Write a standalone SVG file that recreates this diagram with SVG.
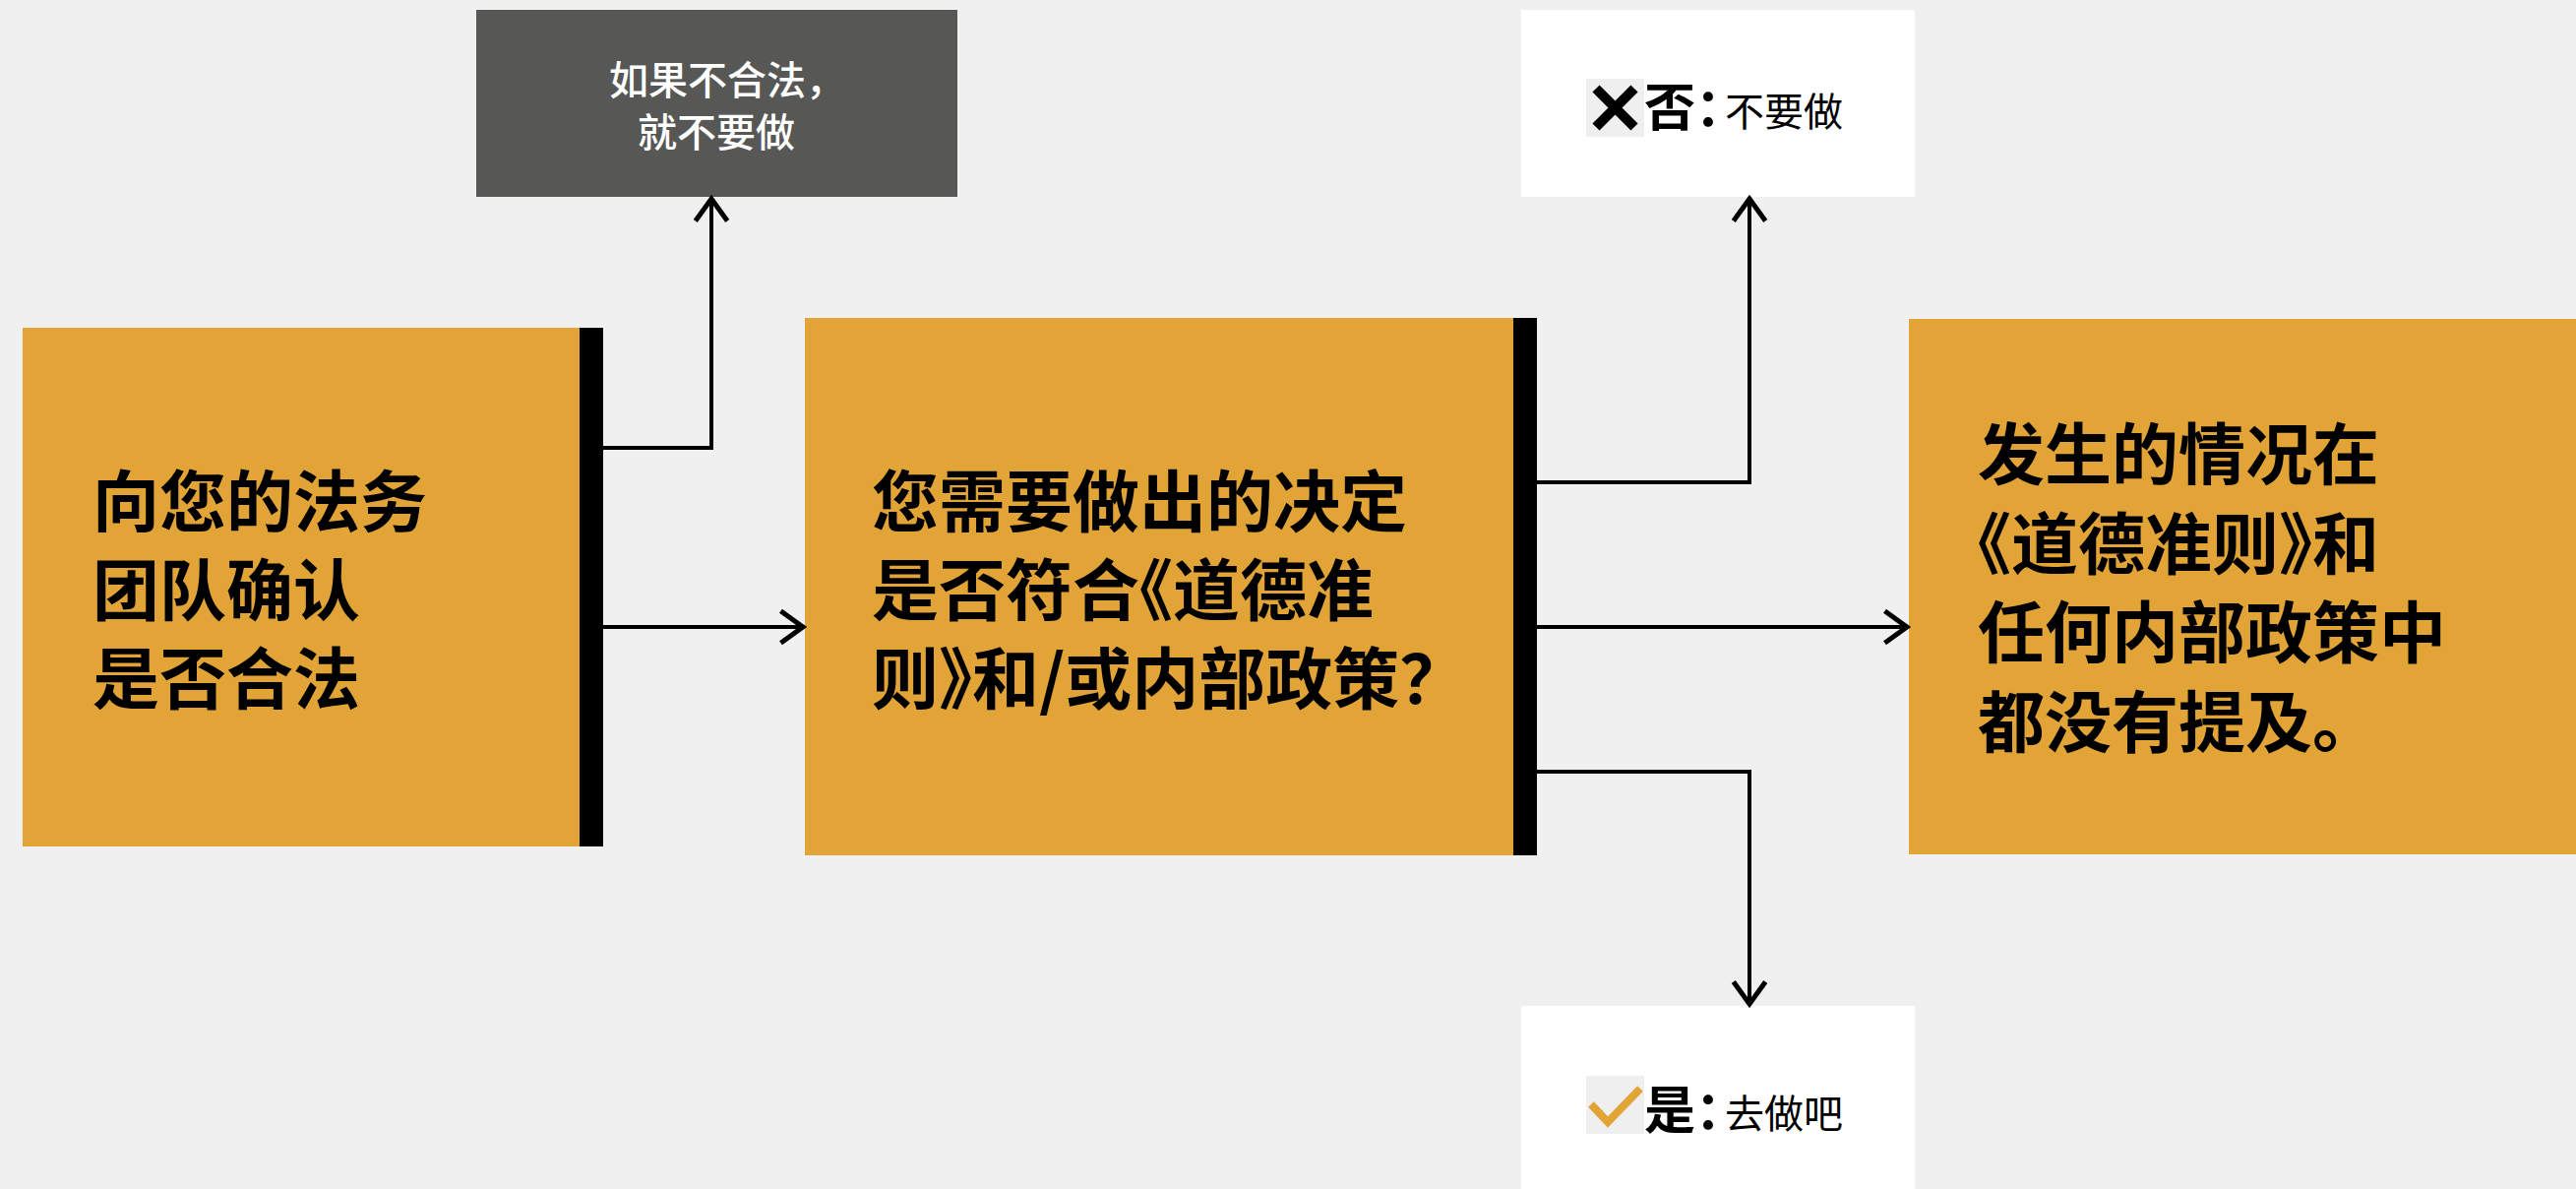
<svg xmlns="http://www.w3.org/2000/svg" width="2618" height="1208" viewBox="0 0 2618 1208">
<style>
.box{fill:#E2A436}
.bar{fill:#000}
.big{font-family:"Noto Sans CJK SC","Noto Sans",sans-serif;font-weight:700;font-size:68px;fill:#000}
.note{font-family:"Noto Sans CJK SC","Noto Sans",sans-serif;font-weight:500;font-size:40px;fill:#fff}
.lbl{font-family:"Noto Sans CJK SC","Noto Sans",sans-serif;font-weight:700;font-size:52px;fill:#000}
.sub{font-family:"Noto Sans CJK SC","Noto Sans",sans-serif;font-weight:400;font-size:40px;fill:#000}
.con{fill:none;stroke:#000;stroke-width:4}
</style>
<defs>
<marker id="arr" markerUnits="userSpaceOnUse" markerWidth="40" markerHeight="40" viewBox="-22 -16 26 32" refX="0" refY="0" orient="auto">
<path d="M-18,-13 L0,0 L-18,13" fill="none" stroke="#000" stroke-width="4"/>
</marker>
</defs>
<rect width="2618" height="1208" fill="#F0F0F0"/>
<g id="node-legal">
<rect class="box" x="23" y="333" width="566" height="527"/>
<rect class="bar" x="589" y="333" width="24" height="527"/>
<text class="big" x="94" y="535">向您的法务</text>
<text class="big" x="94" y="625">团队确认</text>
<text class="big" x="94" y="715">是否合法</text>
</g>
<g id="node-illegal">
<rect x="484" y="10" width="489" height="190" fill="#575756"/>
<text class="note" x="619" y="96">如果不合法，</text>
<text class="note" x="728" y="149" text-anchor="middle">就不要做</text>
</g>
<g id="node-decision">
<rect class="box" x="818" y="323" width="720" height="546"/>
<rect class="bar" x="1538" y="323" width="24" height="546"/>
<text class="big" x="886" y="535">您需要做出的决定</text>
<text class="big" x="886" y="625">是否符合<tspan dx="-34">《</tspan>道德准</text>
<text class="big" x="886" y="715">则》<tspan dx="-34">和</tspan>/或内部政策？</text>
</g>
<g id="node-no">
<rect x="1546" y="10" width="400" height="190" fill="#fff"/>
<rect x="1612" y="80" width="59" height="59" fill="#EFEFEF"/>
<path d="M1622,90 L1661,129 M1661,90 L1622,129" stroke="#000" stroke-width="10" fill="none"/>
<text class="lbl" x="1671" y="128">否：</text>
<text class="sub" x="1753" y="128">不要做</text>
</g>
<g id="node-yes">
<rect x="1546" y="1022" width="400" height="186" fill="#fff"/>
<rect x="1612" y="1093" width="59" height="59" fill="#EFEFEF"/>
<path d="M1617,1122 L1634,1140 L1667,1106" stroke="#E2A436" stroke-width="8" fill="none"/>
<text class="lbl" x="1671" y="1147">是：</text>
<text class="sub" x="1753" y="1146">去做吧</text>
</g>
<g id="node-none">
<rect class="box" x="1940" y="324" width="678" height="544"/>
<text class="big" x="2010" y="487">发生的情况在</text>
<text class="big" x="1976" y="578">《道德准则》<tspan dx="-34">和</tspan></text>
<text class="big" x="2010" y="668">任何内部政策中</text>
<text class="big" x="2010" y="759">都没有提及。</text>
</g>
<g id="connectors">
<polyline class="con" points="613,455 723,455 723,202" marker-end="url(#arr)"/>
<line class="con" x1="613" y1="637" x2="816" y2="637" marker-end="url(#arr)"/>
<polyline class="con" points="1562,490 1778,490 1778,202" marker-end="url(#arr)"/>
<line class="con" x1="1562" y1="637" x2="1938" y2="637" marker-end="url(#arr)"/>
<polyline class="con" points="1562,784 1778,784 1778,1020" marker-end="url(#arr)"/>
</g>
</svg>
